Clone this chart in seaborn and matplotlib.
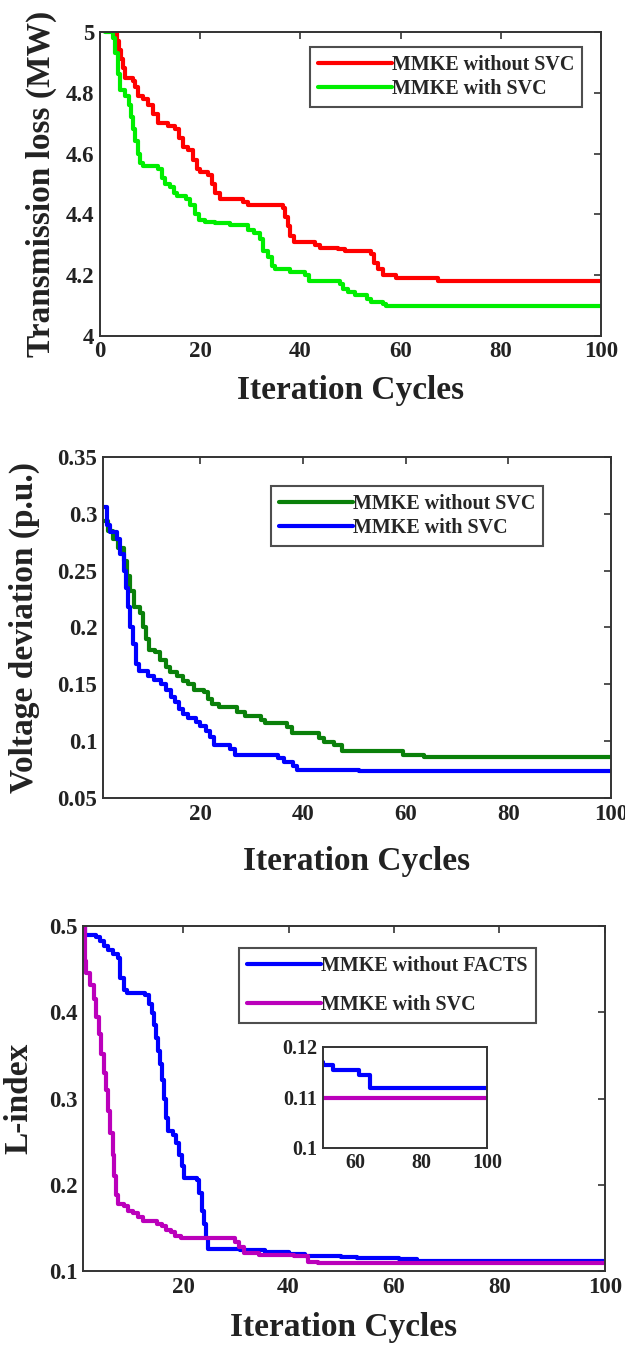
import numpy as np
import pandas as pd
import matplotlib
matplotlib.use("Agg")
import matplotlib.pyplot as plt
from matplotlib.ticker import FuncFormatter
from matplotlib.lines import Line2D
import seaborn as sns

# ---------------- data ----------------
# Panel 1: Transmission loss (MW)
tl_red_x = [3, 3.4, 3.8, 4.2, 4.6, 5, 6.5, 7, 7.5, 8.5, 9.5, 10.5, 11.5, 13.5, 15, 15.8, 16.5,
            17.5, 18.5, 19.3, 20, 21.5, 22.3, 23, 24, 28.5, 29.5, 36.5, 37, 37.5, 38, 38.8, 43,
            44, 47.5, 49, 54, 54.7, 55.5, 56.5, 59, 67.5, 100]
tl_red_y = [5.0, 4.97, 4.94, 4.91, 4.88, 4.85, 4.84, 4.82, 4.79, 4.78, 4.76, 4.73, 4.70, 4.69,
            4.68, 4.65, 4.62, 4.61, 4.58, 4.55, 4.54, 4.53, 4.50, 4.47, 4.45, 4.44, 4.43, 4.42,
            4.39, 4.36, 4.33, 4.31, 4.30, 4.29, 4.285, 4.28, 4.27, 4.24, 4.22, 4.20, 4.19,
            4.18, 4.18]
tl_green_x = [1, 2.5, 3, 3.5, 4, 5, 5.7, 6.1, 6.5, 7, 7.5, 8, 8.5, 11.5, 12.3, 13, 14, 14.7,
              15.3, 17.2, 18, 19, 19.7, 21, 23, 26, 29.5, 30.8, 32, 32.6, 33.5, 34.3, 35, 38,
              41, 41.8, 48, 48.5, 49.5, 50.8, 53.2, 54, 56.5, 57, 100]
tl_green_y = [5.0, 4.98, 4.93, 4.86, 4.81, 4.79, 4.76, 4.72, 4.68, 4.64, 4.60, 4.57, 4.56,
              4.55, 4.52, 4.50, 4.49, 4.47, 4.46, 4.45, 4.43, 4.40, 4.38, 4.375, 4.37, 4.365,
              4.35, 4.34, 4.32, 4.28, 4.26, 4.23, 4.22, 4.21, 4.20, 4.18, 4.17, 4.155, 4.145,
              4.135, 4.12, 4.11, 4.105, 4.10, 4.10]
tl_labels = ["MMKE without SVC", "MMKE with SVC"]

# Panel 2: Voltage deviation (p.u.)
vd_green_x = [1, 2, 3, 4, 5, 5.6, 6.2, 7, 8.3, 8.8, 9.4, 10, 11.2, 12.2, 13.2, 14, 15.5, 16.5,
              17.5, 18.7, 20.7, 21.5, 22.3, 23.6, 27.2, 28.7, 31.8, 32.6, 36.8, 37.8, 43, 44,
              46, 47.5, 59.5, 63.6, 100]
vd_green_y = [0.294, 0.285, 0.278, 0.27, 0.258, 0.245, 0.232, 0.218, 0.213, 0.20, 0.19, 0.18,
              0.178, 0.171, 0.165, 0.161, 0.157, 0.153, 0.150, 0.145, 0.143, 0.137, 0.133,
              0.13, 0.126, 0.122, 0.119, 0.116, 0.112, 0.107, 0.103, 0.0995, 0.097, 0.091,
              0.088, 0.086, 0.086]
vd_blue_x = [1, 1.7, 2.4, 3.7, 4.3, 5, 5.5, 5.9, 6.3, 6.8, 7.5, 8, 9.7, 10.9, 12.4, 13.3, 14.3,
             15, 15.8, 16.6, 17.5, 19.2, 20, 21, 21.8, 22.7, 25.8, 26.8, 35.2, 36.3, 38, 38.8,
             50.8, 100]
vd_blue_y = [0.306, 0.29, 0.284, 0.278, 0.265, 0.25, 0.235, 0.218, 0.2, 0.185, 0.168, 0.162,
             0.157, 0.154, 0.15, 0.145, 0.139, 0.134, 0.128, 0.124, 0.12, 0.117, 0.113, 0.109,
             0.104, 0.097, 0.093, 0.088, 0.085, 0.082, 0.078, 0.0745, 0.0735, 0.0735]
vd_labels = ["MMKE without SVC", "MMKE with SVC"]

# Panel 3: L-index
li_blue_x = [1, 1.4, 3.4, 4.2, 5, 5.8, 6.6, 7.6, 8.1, 8.7, 9.3, 12.8, 13.5, 14, 14.4, 14.8, 15.2,
             15.6, 16, 16.4, 16.8, 17.1, 18.1, 18.7, 19.3, 19.8, 20.2, 22.6, 23.1, 23.6, 24,
             24.4, 24.8, 30.8, 35.5, 40, 43.2, 50, 53, 61, 64.3, 100]
li_blue_y = [0.50, 0.49, 0.487, 0.483, 0.477, 0.472, 0.468, 0.463, 0.44, 0.426, 0.422, 0.42,
             0.41, 0.399, 0.385, 0.37, 0.355, 0.34, 0.322, 0.300, 0.278, 0.262, 0.258, 0.248,
             0.235, 0.222, 0.208, 0.205, 0.19, 0.17, 0.155, 0.138, 0.126, 0.124, 0.122, 0.12,
             0.117, 0.1164, 0.1154, 0.1144, 0.1118, 0.1118]
li_mag_x = [1, 1.3, 1.6, 2.4, 3, 3.5, 4, 4.5, 5, 5.4, 5.8, 6.2, 6.6, 6.9, 7.2, 7.6, 8.8, 9.6,
            10.5, 11.4, 12.4, 15, 16, 16.8, 17.6, 18.5, 19.6, 29.8, 30.6, 31.5, 34.4, 41, 43.6,
            45.5, 100]
li_mag_y = [0.50, 0.46, 0.445, 0.432, 0.415, 0.395, 0.375, 0.352, 0.33, 0.31, 0.285, 0.26,
            0.235, 0.21, 0.188, 0.178, 0.175, 0.17, 0.167, 0.163, 0.158, 0.155, 0.152, 0.148,
            0.145, 0.141, 0.138, 0.134, 0.128, 0.121, 0.119, 0.117, 0.111, 0.1098, 0.1098]
li_labels = ["MMKE without FACTS", "MMKE with SVC"]

x_label = "Iteration Cycles"

# ---------------- style ----------------
sns.set_style("white")
plt.rcParams["font.family"] = ["Liberation Serif", "DejaVu Serif"]
plt.rcParams["font.weight"] = "bold"
plt.rcParams["axes.labelweight"] = "bold"
plt.rcParams["axes.edgecolor"] = "#333333"
plt.rcParams["axes.linewidth"] = 1.4

fig = plt.figure(figsize=(6.25, 13.47), dpi=100)

TICK_FS = 16.5
LABEL_FS = 24
LEG_FS = 14.4
LW = 3.0

fmt = FuncFormatter(lambda v, p: ("%g" % round(v, 4)))


def style_axes(ax, tick_fs=TICK_FS):
    ax.tick_params(direction="in", top=True, right=True, length=5, width=1.2,
                   labelsize=tick_fs, colors="#333333", labelcolor="#222222", pad=4)
    ax.yaxis.set_major_formatter(fmt)
    for lab in ax.get_xticklabels() + ax.get_yticklabels():
        lab.set_fontweight("bold")
    for s in ax.spines.values():
        s.set_visible(True)
        s.set_color("#333333")


def draw(ax, series, colors, labels):
    frames = []
    for (xs, ys), lab in zip(series, labels):
        frames.append(pd.DataFrame({"it": xs, "val": ys, "series": lab}))
    df = pd.concat(frames, ignore_index=True)
    sns.lineplot(data=df, x="it", y="val", hue="series", palette=dict(zip(labels, colors)),
                 drawstyle="steps-post", linewidth=LW, ax=ax, legend=False, sort=False,
                 estimator=None)
    ax.set_xlabel("")
    ax.set_ylabel("")


def add_legend(ax, colors, labels, anchor, spacing):
    handles = [Line2D([0], [0], color=c, lw=LW) for c in colors]
    leg = ax.legend(handles, labels, loc="upper right", bbox_to_anchor=anchor,
                    borderaxespad=0, handlelength=3.7, handletextpad=0.0,
                    labelspacing=spacing, frameon=True, fancybox=False, borderpad=0.4,
                    prop={"weight": "bold", "size": LEG_FS})
    leg.get_frame().set_edgecolor("#222222")
    leg.get_frame().set_linewidth(1.5)
    return leg


# ---------------- panel 1 ----------------
ax1 = fig.add_axes([0.160, 0.7506, 0.8016, 0.2257])
draw(ax1, [(tl_red_x, tl_red_y), (tl_green_x, tl_green_y)], ["#ff0000", "#00ee00"], tl_labels)
ax1.set_xlim(0, 100)
ax1.set_ylim(4, 5)
ax1.set_xticks([0, 20, 40, 60, 80, 100])
ax1.set_yticks([4, 4.2, 4.4, 4.6, 4.8, 5])
style_axes(ax1)
ax1.set_xlabel(x_label, fontsize=LABEL_FS, fontweight="bold", color="#222222")
ax1.set_ylabel("Transmission loss (MW)", fontsize=LABEL_FS, fontweight="bold", color="#222222")
ax1.xaxis.set_label_coords(0.5, -0.13)
ax1.yaxis.set_label_coords(-0.086, 0.5)
add_legend(ax1, ["#ff0000", "#00ee00"], tl_labels, (0.962, 0.951), 0.2)

# ---------------- panel 2 ----------------
ax2 = fig.add_axes([0.1648, 0.4076, 0.8128, 0.2532])
draw(ax2, [(vd_green_x, vd_green_y), (vd_blue_x, vd_blue_y)], ["#0a800a", "#0000ff"], vd_labels)
ax2.set_xlim(1, 100)
ax2.set_ylim(0.05, 0.35)
ax2.set_xticks([20, 40, 60, 80, 100])
ax2.set_yticks([0.05, 0.1, 0.15, 0.2, 0.25, 0.3, 0.35])
style_axes(ax2)
ax2.set_xlabel(x_label, fontsize=LABEL_FS, fontweight="bold", color="#222222")
ax2.set_ylabel("Voltage deviation (p.u.)", fontsize=LABEL_FS, fontweight="bold", color="#222222")
ax2.xaxis.set_label_coords(0.5, -0.14)
ax2.yaxis.set_label_coords(-0.124, 0.5)
add_legend(ax2, ["#0a800a", "#0000ff"], vd_labels, (0.866, 0.915), 0.22)

# ---------------- panel 3 ----------------
ax3 = fig.add_axes([0.1328, 0.0564, 0.835, 0.2561])
li_colors = ["#0000ff", "#bb00bb"]
draw(ax3, [(li_blue_x, li_blue_y), (li_mag_x, li_mag_y)], li_colors, li_labels)
ax3.set_xlim(1, 100)
ax3.set_ylim(0.1, 0.5)
ax3.set_xticks([20, 40, 60, 80, 100])
ax3.set_yticks([0.1, 0.2, 0.3, 0.4, 0.5])
style_axes(ax3)
ax3.set_xlabel(x_label, fontsize=LABEL_FS, fontweight="bold", color="#222222")
ax3.set_ylabel("L-index", fontsize=LABEL_FS, fontweight="bold", color="#222222")
ax3.xaxis.set_label_coords(0.5, -0.119)
ax3.yaxis.set_label_coords(-0.094, 0.5)
add_legend(ax3, li_colors, li_labels, (0.868, 0.936), 0.95)

# inset
axi = fig.add_axes([0.5168, 0.1478, 0.2624, 0.075])
draw(axi, [(li_blue_x, li_blue_y), (li_mag_x, li_mag_y)], li_colors, li_labels)
axi.set_xlim(50, 100)
axi.set_ylim(0.1, 0.12)
axi.set_xticks([60, 80, 100])
axi.set_yticks([0.1, 0.11, 0.12])
style_axes(axi, tick_fs=14.5)
axi.tick_params(top=False, right=False, length=0)
axi.set_xlabel("")
axi.set_ylabel("")

fig.savefig("out.png", dpi=100)
